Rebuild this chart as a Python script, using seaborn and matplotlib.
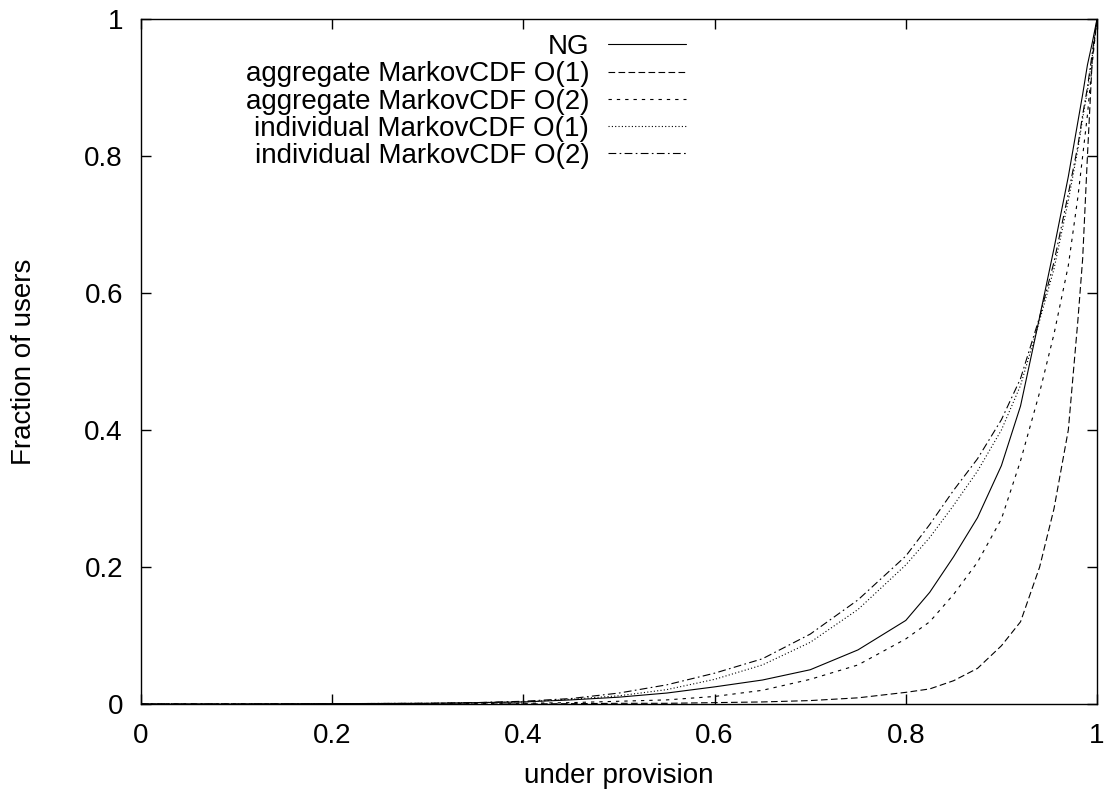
import numpy as np
import pandas as pd
import matplotlib
matplotlib.use("Agg")
import matplotlib.pyplot as plt
import seaborn as sns

# Under-provision level (x) shared by every CDF series
under_provision = [0.0, 0.1, 0.2, 0.3, 0.35, 0.4, 0.45, 0.5, 0.55, 0.6, 0.65, 0.7,
                   0.75, 0.8, 0.825, 0.85, 0.875, 0.9, 0.92, 0.94, 0.955, 0.97,
                   0.98, 0.985, 0.99, 0.995, 1.0]

# Fraction of users (CDF) for each predictor
ng = [0.0, 0.0, 0.0005, 0.001, 0.002, 0.003, 0.006, 0.010, 0.016, 0.025, 0.035, 0.050,
      0.079, 0.122, 0.163, 0.215, 0.272, 0.348, 0.435, 0.565, 0.665, 0.770,
      0.850, 0.890, 0.933, 0.965, 1.0]
agg_o1 = [0.0, 0.0, 0.0, 0.0, 0.0, 0.0, 0.0005, 0.001, 0.001, 0.002, 0.003, 0.005,
          0.009, 0.017, 0.022, 0.034, 0.052, 0.085, 0.120, 0.200, 0.285, 0.400,
          0.560, 0.650, 0.800, 0.940, 1.0]
agg_o2 = [0.0, 0.0, 0.0, 0.0005, 0.001, 0.001, 0.002, 0.004, 0.006, 0.011, 0.020, 0.036,
          0.057, 0.095, 0.120, 0.160, 0.207, 0.270, 0.355, 0.455, 0.540, 0.640,
          0.740, 0.800, 0.860, 0.935, 1.0]
ind_o1 = [0.0, 0.0, 0.0005, 0.001, 0.002, 0.003, 0.007, 0.012, 0.021, 0.036, 0.057, 0.090,
          0.138, 0.203, 0.243, 0.290, 0.340, 0.400, 0.465, 0.560, 0.635, 0.735,
          0.810, 0.855, 0.895, 0.945, 1.0]
ind_o2 = [0.0, 0.0, 0.0005, 0.001, 0.002, 0.004, 0.008, 0.016, 0.028, 0.045, 0.066, 0.102,
          0.152, 0.216, 0.262, 0.312, 0.358, 0.415, 0.475, 0.565, 0.645, 0.745,
          0.815, 0.860, 0.900, 0.950, 1.0]

series_names = ["NG",
                "aggregate MarkovCDF O(1)",
                "aggregate MarkovCDF O(2)",
                "individual MarkovCDF O(1)",
                "individual MarkovCDF O(2)"]
series_values = [ng, agg_o1, agg_o2, ind_o1, ind_o2]

x_ticks = [0, 0.2, 0.4, 0.6, 0.8, 1]
x_tick_labels = ["0", "0.2", "0.4", "0.6", "0.8", "1"]
y_ticks = [0, 0.2, 0.4, 0.6, 0.8, 1]
y_tick_labels = ["0", "0.2", "0.4", "0.6", "0.8", "1"]

# line patterns, in units of line width
line_styles = ["-",
               (0, (6, 3)),
               (0, (3, 4.5)),
               (0, (1, 2)),
               (0, (7, 3, 1.5, 3))]

sns.set_theme(style="ticks")
plt.rcParams["font.family"] = ["Liberation Sans", "DejaVu Sans"]
plt.rcParams["axes.unicode_minus"] = False

fig = plt.figure(figsize=(11.09, 7.95), dpi=100)
ax = fig.add_axes([141 / 1109, 1 - 704 / 795, (1097 - 141) / 1109, (704 - 19) / 795])

frame = pd.DataFrame({"x": under_provision})
for name, vals in zip(series_names, series_values):
    frame[name] = vals

for name, style in zip(series_names, line_styles):
    sns.lineplot(data=frame, x="x", y=name, ax=ax, color="black", lw=0.8,
                 linestyle=style, label=name, legend=False)

ax.set_xlim(0, 1)
ax.set_ylim(0, 1)
ax.set_xticks(x_ticks)
ax.set_xticklabels(x_tick_labels)
ax.set_yticks(y_ticks)
ax.set_yticklabels(y_tick_labels)

for side in ["top", "right", "bottom", "left"]:
    ax.spines[side].set_visible(True)
    ax.spines[side].set_linewidth(1.0)
    ax.spines[side].set_color("black")

ax.tick_params(axis="both", which="major", direction="in", length=7, width=1.0,
               colors="black", labelsize=20, top=True, right=True)
ax.tick_params(axis="x", pad=14)
ax.tick_params(axis="y", pad=13)

ax.set_xlabel("under provision", fontsize=20, color="black", labelpad=10)
ax.set_ylabel("Fraction of users", fontsize=20, color="black", labelpad=34)

handles = ax.get_lines()
leg = ax.legend(handles, series_names, loc="upper right",
                bbox_to_anchor=(0.570, 0.978), frameon=False, fontsize=20,
                markerfirst=False, handlelength=2.8, handletextpad=0.68,
                labelspacing=0.045, borderpad=0, borderaxespad=0)
for t in leg.get_texts():
    t.set_color("black")

fig.savefig("out.png", dpi=100, facecolor="white")
